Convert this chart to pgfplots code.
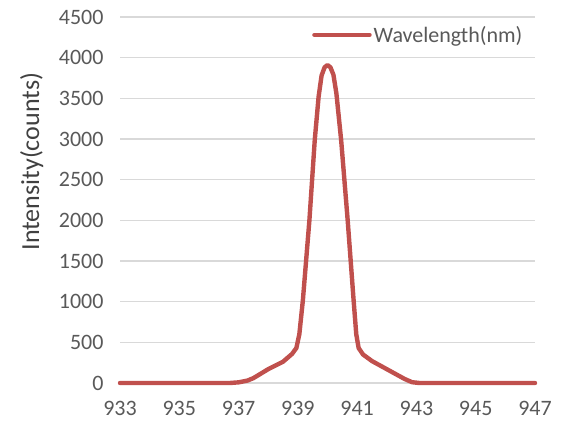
\documentclass[border=0pt]{standalone}
\usepackage{fontspec}
\setmainfont{Carlito}
\usepackage{pgfplots}
\pgfplotsset{compat=1.18}
\definecolor{linered}{HTML}{C0504D}
\definecolor{gridgray}{HTML}{D9D9D9}
\definecolor{ticktext}{HTML}{595959}
\definecolor{labeltext}{HTML}{404040}
\begin{document}
\begin{tikzpicture}
\path[use as bounding box] (-120pt,-42pt) rectangle (441pt,383pt);
\begin{axis}[
  at={(0pt,0pt)}, anchor=south west,
  scale only axis, width=415pt, height=366pt,
  xmin=933, xmax=947, ymin=0, ymax=4500,
  xtick={933,935,...,947}, ytick={0,500,...,4500},
  ymajorgrids, grid style={gridgray, line width=1.6pt},
  axis line style={draw=none},
  major tick length=0pt,
  tick label style={font=\fontsize{22}{24}\selectfont, text=ticktext},
  /pgf/number format/assume math mode=true,
  /pgf/number format/1000 sep={},
  yticklabel style={xshift=-13pt},
  xticklabel style={yshift=-15pt},
  ylabel={Intensity(counts)},
  every axis y label/.style={at={(axis description cs:-0.213,0.605)}, rotate=90, anchor=center,
    font=\fontsize{26}{28}\selectfont, text=labeltext},
  legend style={draw=none, fill=none, at={(axis description cs:0.4627,0.951)}, anchor=west,
    font=\fontsize{22}{24}\selectfont, text=ticktext, inner sep=0pt,
    /tikz/every even column/.append style={column sep=0pt}},
  legend image code/.code={\draw[#1, line width=4.5pt] (0pt,0pt) -- (55pt,0pt);},
  clip=false,
]
\addplot[linered, line width=4.4pt, line join=round, line cap=round] coordinates {
(933,0) (936.7,0) (937,8) (937.3,30) (937.5,60) (937.75,115) (938,170) (938.5,262)
(938.8,356) (938.95,430) (939.05,600) (939.17,1020) (939.39,2004) (939.57,2988) (939.7,3520)
(939.8,3780) (939.9,3880) (940,3910) (940.1,3880) (940.2,3790) (940.3,3560) (940.46,2988) (940.68,2004)
(940.88,1020) (940.97,600) (941.05,430) (941.2,350) (941.5,270) (942,170) (942.3,110) (942.6,50)
(942.85,10) (943.1,0) (947,0)
};
\addlegendentry{Wavelength(nm)}
\end{axis}
\end{tikzpicture}
\end{document}
